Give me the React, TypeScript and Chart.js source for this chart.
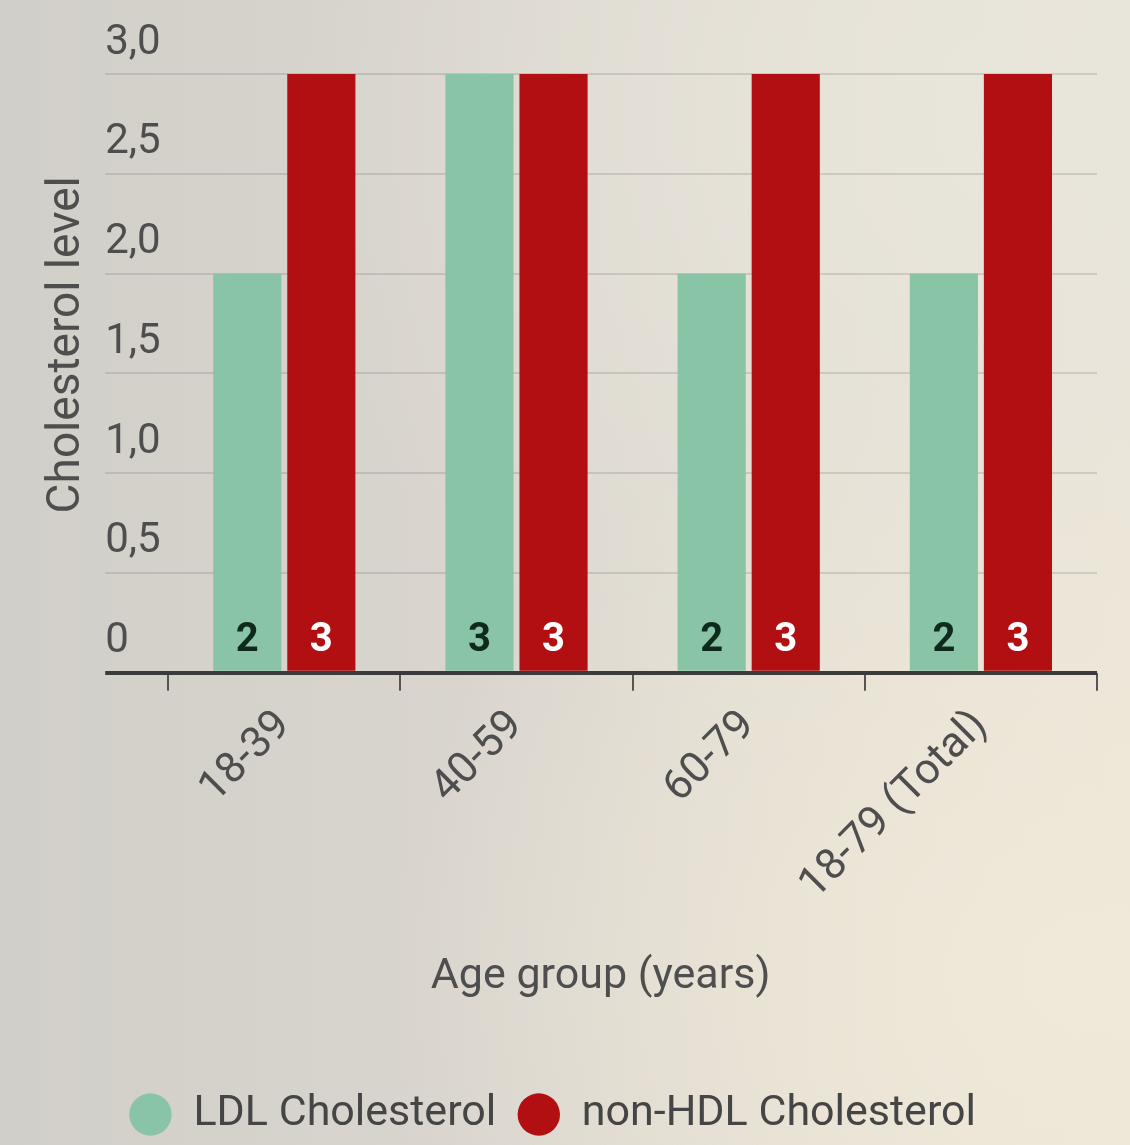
import { useEffect, useRef } from 'react';
import { Chart, registerables } from 'chart.js';

Chart.register(...registerables);

// ---- data ----
const categories = ['18-39', '40-59', '60-79', '18-79 (Total)'];
const ldlValues = [2, 3, 2, 2];
const nonHdlValues = [3, 3, 3, 3];
const seriesNames = ['LDL Cholesterol', 'non-HDL Cholesterol'];
const yTickValues = [0, 0.5, 1, 1.5, 2, 2.5, 3];
const xAxisTitle = 'Age group (years)';
const yAxisTitle = 'Cholesterol level';

// ---- styling ----
const FONT = 'Roboto, "Noto Sans", "DejaVu Sans", sans-serif';
const GREEN = '#89c4a7';
const RED = '#b10f12';
const TEXT = '#4e4e4e';
const NBSP = '\u00a0';

const formatTick = (v: number) => (v === 0 ? '0' : v.toFixed(1).replace('.', ','));

// Writes each bar's value near its base.
const barValueLabels = {
  id: 'barValueLabels',
  afterDatasetsDraw(chart: any) {
    const { ctx } = chart;
    const base = chart.scales.y.getPixelForValue(0);
    ctx.save();
    ctx.font = `bold 40px ${FONT}`;
    ctx.textAlign = 'center';
    ctx.textBaseline = 'middle';
    chart.data.datasets.forEach((ds: any, i: number) => {
      const meta = chart.getDatasetMeta(i);
      ctx.fillStyle = ds.valueLabelColor;
      meta.data.forEach((bar: any, j: number) => {
        ctx.fillText(String(ds.data[j]), bar.x, base - 32);
      });
    });
    ctx.restore();
  },
};

export default function App() {
  const canvasRef = useRef<HTMLCanvasElement | null>(null);

  useEffect(() => {
    document.body.style.background =
      'radial-gradient(ellipse at 95% 85%, #f0e9d9 0%, rgba(240,233,217,0) 45%),' +
      'radial-gradient(ellipse at 90% 10%, #e8e5db 0%, rgba(232,229,219,0) 50%),' +
      'linear-gradient(90deg, #d1cfc9 0%, #d9d5ce 40%, #e2ddd3 70%, #ebe5d8 100%)';

    const canvas = canvasRef.current;
    if (!canvas) return;

    const chart = new Chart(canvas, {
      type: 'bar',
      data: {
        labels: categories,
        datasets: [
          {
            label: seriesNames[0],
            data: ldlValues,
            backgroundColor: GREEN,
            borderWidth: 0,
            categoryPercentage: 0.638,
            barPercentage: 0.92,
            valueLabelColor: '#0f2a1c',
          } as any,
          {
            label: seriesNames[1],
            data: nonHdlValues,
            backgroundColor: RED,
            borderWidth: 0,
            categoryPercentage: 0.638,
            barPercentage: 0.92,
            valueLabelColor: '#ffffff',
          } as any,
        ],
      },
      options: {
        animation: false,
        responsive: true,
        maintainAspectRatio: false,
        layout: { padding: { top: 66, right: 25, bottom: -9, left: 0 } },
        plugins: {
          tooltip: { enabled: false },
          legend: {
            position: 'bottom',
            labels: {
              usePointStyle: true,
              pointStyle: 'circle',
              boxWidth: 55,
              boxHeight: 30,
              padding: 21,
              color: '#454545',
              font: { family: FONT, size: 43 },
            },
          },
        },
        scales: {
          x: {
            offset: true,
            border: { display: false },
            grid: {
              offset: true,
              drawOnChartArea: false,
              drawTicks: true,
              tickLength: 18,
              color: '#555',
              lineWidth: 2,
            },
            ticks: {
              minRotation: 45,
              maxRotation: 45,
              autoSkip: false,
              padding: 10,
              color: TEXT,
              font: { family: FONT, size: 43 },
            },
            title: {
              display: true,
              text: xAxisTitle + NBSP.repeat(6),
              color: TEXT,
              font: { family: FONT, size: 43 },
              padding: { top: 31, bottom: 69 },
            },
          },
          y: {
            min: 0,
            max: 3,
            afterBuildTicks: (scale: any) => {
              scale.ticks = yTickValues.map((value) => ({ value }));
            },
            afterFit: (scale: any) => {
              scale.width = 63;
            },
            border: { display: false },
            grid: {
              drawTicks: true,
              tickLength: 63,
              color: (c: any) => (c.tick && c.tick.value === 0 ? '#3b3b3b' : 'rgba(110,110,110,0.22)'),
              lineWidth: (c: any) => (c.tick && c.tick.value === 0 ? 4 : 2),
            },
            ticks: {
              crossAlign: 'far',
              labelOffset: -31,
              padding: 0,
              color: TEXT,
              font: { family: FONT, size: 42 },
              callback: (v: any) => formatTick(Number(v)),
            },
          },
          yTitle: {
            type: 'linear',
            position: 'left',
            weight: 10,
            border: { display: false },
            grid: { display: false, drawTicks: false },
            ticks: { display: false },
            title: {
              display: true,
              text: NBSP.repeat(5) + yAxisTitle,
              color: TEXT,
              font: { family: FONT, size: 46 },
              padding: { top: 32, bottom: 10 },
            },
          },
        },
      } as any,
      plugins: [barValueLabels],
    });

    return () => chart.destroy();
  }, []);

  return (
    <div style={{ position: 'relative', width: 1114, height: 1129 }}>
      <canvas ref={canvasRef} />
    </div>
  );
}
